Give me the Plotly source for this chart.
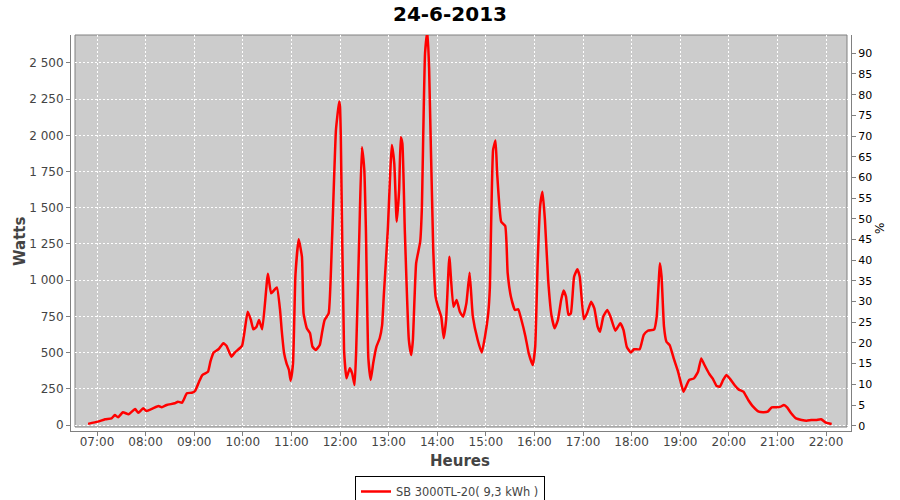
import plotly.graph_objects as go

DAY = "2013-06-24"
times = ["06:49","07:01","07:10","07:18","07:22","07:26","07:32","07:39","07:47","07:51","07:57",
         "08:01","08:09","08:16","08:20","08:26","08:36","08:40","08:45","08:51","08:57",
         "09:01","09:06","09:10","09:17","09:20","09:24","09:30","09:36","09:40","09:46","09:50","09:59",
         "10:06","10:10","10:13","10:17","10:20","10:24","10:31","10:35","10:42","10:46","10:48","10:51","10:54","10:57","10:59",
         "11:02","11:05","11:09","11:13","11:15","11:19","11:23","11:26","11:30","11:35","11:38","11:41","11:46","11:50","11:55","11:59",
         "12:00","12:01","12:05","12:08","12:12","12:15","12:18","12:20","12:24","12:27","12:30","12:32","12:35","12:38","12:41","12:45","12:49","12:52","12:54","12:59",
         "13:04","13:07","13:10","13:13","13:15","13:17","13:20","13:25","13:28","13:30","13:34","13:39","13:41","13:45","13:48","13:50","13:55","13:58",
         "14:01","14:05","14:08","14:11","14:15","14:20","14:24","14:28","14:32","14:36","14:40","14:44","14:50","14:55","14:59",
         "15:03","15:05","15:09","15:12","15:14","15:19","15:24","15:27","15:31","15:36","15:40","15:44","15:49","15:53","15:58",
         "16:01","16:04","16:07","16:10","16:13","16:17","16:21","16:25","16:29","16:33","16:36","16:39","16:42","16:45","16:49","16:53","16:56",
         "17:01","17:05","17:10","17:14","17:18","17:21","17:25","17:30","17:34","17:40","17:46","17:50","17:54","17:59",
         "18:03","18:10","18:15","18:20","18:28","18:31","18:35","18:37","18:40","18:43","18:47","18:52","18:57",
         "19:01","19:04","19:11","19:17","19:22","19:26","19:30","19:36","19:40","19:45","19:49","19:53","19:57",
         "20:01","20:07","20:12","20:18","20:24","20:30","20:37","20:43","20:48","20:53","20:59",
         "21:04","21:08","21:12","21:17","21:23","21:30","21:36","21:42","21:48","21:54","22:00","22:07"]
watts = [8,23,40,46,69,53,88,74,110,85,115,
         97,115,131,122,138,150,161,154,219,223,
         235,299,345,368,437,500,523,564,546,472,500,546,
         782,725,661,679,725,661,1045,910,950,794,656,495,426,380,306,
         426,1036,1282,1162,771,668,633,541,518,552,644,725,771,1255,2037,2233,
         2198,1991,518,322,392,357,276,518,1347,1918,1761,1347,460,311,426,541,599,690,886,1347,
         1934,1807,1404,1623,1987,1945,1347,587,483,587,1117,1266,1485,2567,2720,2463,1231,886,
         817,748,599,725,1162,817,863,782,748,840,1052,748,587,500,610,
         771,944,1899,1964,1738,1404,1374,1048,886,794,799,725,610,495,414,
         541,1117,1508,1611,1416,1001,760,668,725,863,928,886,760,771,1024,1075,1024,
         730,771,851,806,679,644,748,794,748,651,702,656,541,500,
         523,523,622,651,661,748,1117,1024,679,575,552,460,375,
         288,230,311,322,368,460,414,352,322,269,265,311,345,
         322,276,246,230,173,127,92,88,92,122,122,
         127,138,122,81,46,35,30,35,35,40,16,7]
left_ticks = list(range(0, 2501, 250))
right_ticks = list(range(0, 91, 5))
series_name = "SB 3000TL-20( 9,3 kWh )"

x = [f"{DAY} {t}" for t in times]

fig = go.Figure()
fig.add_trace(go.Scatter(x=x, y=watts, mode="lines", name=series_name,
                         line=dict(color="#FF0000", width=2.5, shape="spline", smoothing=0.4),
                         yaxis="y"))
fig.add_trace(go.Scatter(x=[None], y=[None], mode="lines", showlegend=False, yaxis="y2",
                         hoverinfo="skip"))

W, H = 900, 500
l, r, t, b = 71, 49, 35, 69
pw, ph = W - l - r, H - t - b
gx0, gx1 = 4 / pw, (pw - 4) / pw
gy0 = 4 / ph

fig.update_layout(
    width=W, height=H,
    margin=dict(l=l, r=r, t=t, b=b, autoexpand=False),
    paper_bgcolor="white", plot_bgcolor="white",
    separators=", ",
    font=dict(family="DejaVu Sans", size=12, color="#444444"),
    title=dict(text="<b>24-6-2013</b>", x=0.5, xanchor="center", y=1 - 14 / H, yanchor="middle",
               xref="container", yref="container",
               font=dict(family="DejaVu Sans", size=20, color="black")),
    xaxis=dict(type="date", range=[f"{DAY} 06:27:54", f"{DAY} 22:30:52"],
               tick0=f"{DAY} 07:00", dtick=3600000, tickformat="%H:%M",
               showgrid=True, gridcolor="white", griddash="2px,2px", gridwidth=1,
               showline=True, linecolor="#808080", linewidth=1,
               ticks="outside", ticklen=4, tickcolor="#808080", automargin=False,
               ticklabelstandoff=-4,
               tickfont=dict(size=12, color="#444444"), zeroline=False),
    yaxis=dict(range=[-41.4, 2693], tickvals=left_ticks, tickformat=",d",
               showgrid=True, gridcolor="white", griddash="2px,2px", gridwidth=1,
               showline=True, linecolor="#808080", linewidth=1, automargin=False,
               ticks="outside", ticklen=4, tickcolor="#808080",
               tickfont=dict(size=12, color="#444444"), zeroline=False),
    yaxis2=dict(range=[-1.28, 94.42], tickvals=right_ticks, overlaying="y", side="right",
                showgrid=False, showline=True, linecolor="#808080", linewidth=1, automargin=False,
                ticks="outside", ticklen=4, tickcolor="#808080",
                tickfont=dict(size=11, color="black"), zeroline=False),
    showlegend=True,
    legend=dict(x=0.5, xanchor="center", y=1 - 476 / H, yanchor="top",
                xref="container", yref="container",
                orientation="h", bgcolor="white", bordercolor="black", borderwidth=1,
                font=dict(size=11.4, color="#444444"), itemwidth=30),
    shapes=[
        dict(type="rect", xref="paper", yref="paper", x0=gx0, x1=gx1, y0=gy0, y1=1,
             fillcolor="#CCCCCC", line=dict(width=0), layer="below"),
        dict(type="rect", xref="paper", yref="paper", x0=gx0, x1=gx1, y0=gy0, y1=1,
             fillcolor="rgba(0,0,0,0)", line=dict(color="#808080", width=1), layer="between"),
    ],
    annotations=[
        dict(text="<b>Watts</b>", xref="paper", yref="paper", x=(20 - l) / pw, y=(431 - 242) / ph,
             xanchor="center", yanchor="middle", textangle=-90, showarrow=False,
             font=dict(size=15, color="#444444")),
        dict(text="<b>Heures</b>", xref="paper", yref="paper", x=(460 - l) / pw, y=(431 - 461) / ph,
             xanchor="center", yanchor="middle", showarrow=False,
             font=dict(size=15, color="#444444")),
        dict(text="%", xref="paper", yref="paper", x=(880 - l) / pw, y=(431 - 229) / ph,
             xanchor="center", yanchor="middle", textangle=-90, showarrow=False,
             font=dict(size=12, color="black")),
    ],
)

fig.write_html("out.html", config={"displayModeBar": False},
               post_script="document.body.style.margin='0';document.body.style.padding='0';")
